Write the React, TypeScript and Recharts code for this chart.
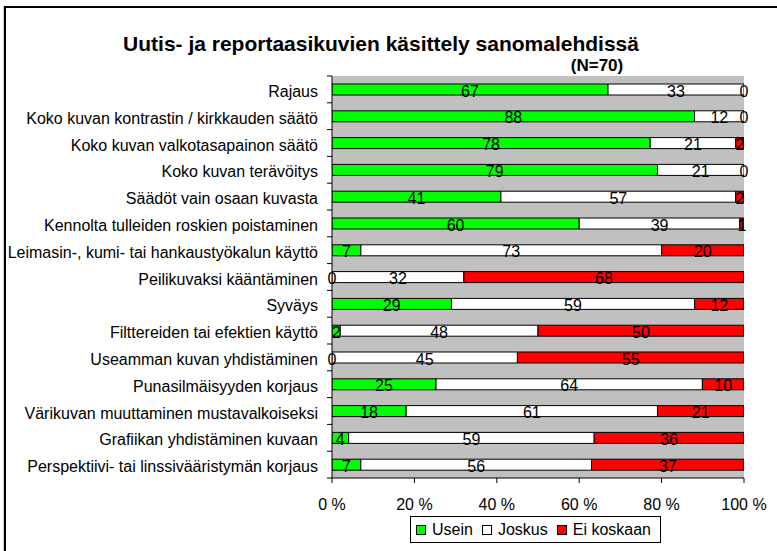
import React from 'react';
import { BarChart, Bar, XAxis, YAxis, CartesianGrid } from 'recharts';

const categories = [
  'Rajaus',
  'Koko kuvan kontrastin / kirkkauden säätö',
  'Koko kuvan valkotasapainon säätö',
  'Koko kuvan terävöitys',
  'Säädöt vain osaan kuvasta',
  'Kennolta tulleiden roskien poistaminen',
  'Leimasin-, kumi- tai hankaustyökalun käyttö',
  'Peilikuvaksi kääntäminen',
  'Syväys',
  'Filttereiden tai efektien käyttö',
  'Useamman kuvan yhdistäminen',
  'Punasilmäisyyden korjaus',
  'Värikuvan muuttaminen mustavalkoiseksi',
  'Grafiikan yhdistäminen kuvaan',
  'Perspektiivi- tai linssivääristymän korjaus',
];
const usein = [67, 88, 78, 79, 41, 60, 7, 0, 29, 2, 0, 25, 18, 4, 7];
const joskus = [33, 12, 21, 21, 57, 39, 73, 32, 59, 48, 45, 64, 61, 59, 56];
const eiKoskaan = [0, 0, 2, 0, 2, 1, 20, 68, 12, 50, 55, 10, 21, 36, 37];
const seriesNames = ['Usein', 'Joskus', 'Ei koskaan'];
const seriesKeys = ['usein', 'joskus', 'ei'];
const seriesColors = ['#00FF00', '#FFFFFF', '#FF0000'];
const xTicks = [0, 0.2, 0.4, 0.6, 0.8, 1];
const title = 'Uutis- ja reportaasikuvien käsittely sanomalehdissä';
const subtitle = '(N=70)';

const data = categories.map((name, i) => ({
  name,
  usein: usein[i],
  joskus: joskus[i],
  ei: eiKoskaan[i],
}));

const FONT = '"Liberation Sans", Arial, sans-serif';
const FS = 16;
const W = 777;
const H = 551;
const M = { top: 76, right: 33, bottom: 43, left: 0 };
const X_AXIS_H = 30;
const PLOT_H = H - M.top - M.bottom - X_AXIS_H;
const BAND = PLOT_H / categories.length;

const CatTick = (props: any) => {
  const { x, y, payload, index, visibleTicksCount } = props;
  const half = payload && payload.offset ? payload.offset : BAND / 2;
  const count = visibleTicksCount || categories.length;
  return (
    <g>
      <text x={x} y={y + 2} dy="0.355em" textAnchor="end" fontSize={FS} fill="#000" fontFamily={FONT}>
        {payload.value}
      </text>
      <line x1={x + 9} x2={x + 14} y1={y - half} y2={y - half} stroke="#000" />
      {index === count - 1 ? (
        <line x1={x + 9} x2={x + 14} y1={y + half} y2={y + half} stroke="#000" />
      ) : null}
    </g>
  );
};

// Draws the value labels of all three stacked segments of a row (incl. zero-size ones)
const RowLabels = (props: any) => {
  const { x, y, width, height, payload } = props;
  if (!payload) return null;
  const vals = seriesKeys.map((k) => Number(payload[k]) || 0);
  const total = vals.reduce((a, b) => a + b, 0) || 1;
  let cum = 0;
  return (
    <g>
      {vals.map((v, i) => {
        const mid = (cum + v / 2) / total;
        cum += v;
        return (
          <text
            key={i}
            x={x + width * mid}
            y={y + height / 2 + 1.5}
            dy="0.355em"
            textAnchor="middle"
            fontSize={FS}
            fill="#000"
            fontFamily={FONT}
          >
            {v}
          </text>
        );
      })}
    </g>
  );
};

export default function App() {
  return (
    <div style={{ position: 'absolute', left: 0, top: 0, width: W, height: H, overflow: 'hidden', background: '#fff', fontFamily: FONT }}>
      <div
        style={{
          position: 'absolute',
          left: 4,
          top: 6,
          width: W + 20,
          height: H + 20,
          borderLeft: '2px solid #000',
          borderTop: '2px solid #000',
          boxShadow: '-1px 0 0 #c8c8c8',
        }}
      />
      <div
        style={{
          position: 'absolute',
          left: 0,
          width: 762,
          top: 30,
          textAlign: 'center',
          fontWeight: 'bold',
          fontSize: 21,
          lineHeight: '27px',
          color: '#000',
        }}
      >
        {title}
      </div>
      <div
        style={{
          position: 'absolute',
          left: 557,
          width: 80,
          top: 56,
          textAlign: 'center',
          fontWeight: 'bold',
          fontSize: 17,
          lineHeight: '20px',
          color: '#000',
        }}
      >
        {subtitle}
      </div>
      <div style={{ position: 'absolute', left: 0, top: 0 }}>
        <BarChart
          width={W}
          height={H}
          data={data}
          layout="vertical"
          stackOffset="expand"
          margin={M}
          barSize={11}
        >
          <CartesianGrid fill="#C0C0C0" horizontal={false} vertical={false} />
          <XAxis
            type="number"
            domain={[0, 1]}
            ticks={xTicks}
            interval={0}
            height={X_AXIS_H}
            tickSize={5}
            tickMargin={16}
            tickFormatter={(v: number) => `${Math.round(v * 100)} %`}
            axisLine={{ stroke: '#000' }}
            tickLine={{ stroke: '#000' }}
            tick={{ fill: '#000', fontSize: FS, fontFamily: FONT }}
            allowDataOverflow
          />
          <XAxis
            xAxisId="top"
            orientation="top"
            type="number"
            domain={[0, 1]}
            height={0}
            tick={false}
            tickLine={false}
            axisLine={{ stroke: '#808080' }}
          />
          <XAxis xAxisId="lab" type="number" domain={[0, 1]} hide />
          <YAxis
            type="category"
            dataKey="name"
            width={332}
            interval={0}
            tickSize={5}
            tickMargin={9}
            tickLine={false}
            axisLine={{ stroke: '#000' }}
            tick={<CatTick />}
          />
          <YAxis yAxisId="lab" type="category" dataKey="name" hide />
          <YAxis
            yAxisId="right"
            orientation="right"
            type="number"
            domain={[0, 1]}
            width={0}
            tick={false}
            tickLine={false}
            axisLine={{ stroke: '#808080' }}
          />
          {seriesKeys.map((k, i) => (
            <Bar
              key={k}
              dataKey={k}
              name={seriesNames[i]}
              stackId="a"
              fill={seriesColors[i]}
              stroke="#000"
              strokeWidth={1}
              isAnimationActive={false}
            />
          ))}
          <Bar
            dataKey={() => 1}
            xAxisId="lab"
            yAxisId="lab"
            fill="none"
            legendType="none"
            isAnimationActive={false}
            shape={<RowLabels />}
          />
        </BarChart>
      </div>
      <div
        style={{
          position: 'absolute',
          left: 410,
          top: 516,
          width: 244,
          height: 25,
          border: '1px solid #000',
          display: 'flex',
          alignItems: 'center',
          paddingLeft: 5,
          boxSizing: 'content-box',
          fontSize: FS,
          color: '#000',
        }}
      >
        {seriesNames.map((n, i) => (
          <div key={n} style={{ display: 'flex', alignItems: 'center', marginRight: 9 }}>
            <div style={{ width: 8, height: 8, border: '1px solid #000', background: seriesColors[i], marginRight: 6 }} />
            <span>{n}</span>
          </div>
        ))}
      </div>
    </div>
  );
}
